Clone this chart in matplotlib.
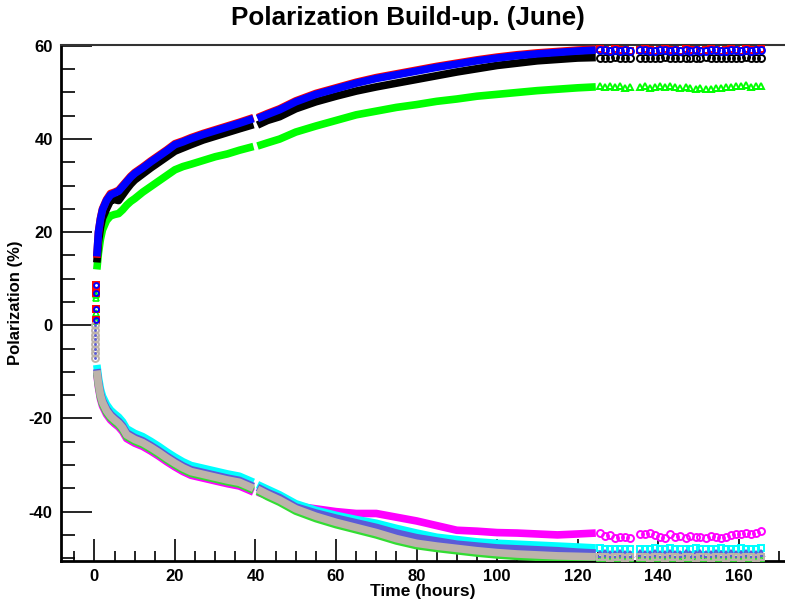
import matplotlib.pyplot as plt
import numpy as np

nan = np.nan

# times (hours)
t_start = [0.4, 0.4, 0.4, 0.4]
t_start_neg = [0.15, 0.15, 0.15, 0.15, 0.15, 0.15, 0.15, 0.15]
t_dense = [0.6, 1.0, 1.5, 2, 3, 4, 5, 6, 7, 8, 9, 10, 12, 14, 16, 18, 20, 22, 24, 27,
           30, 33, 36, 39.5, 40, 40.5, 43, 46, 50, 55, 60, 65, 70, 75, 80, 85, 90, 95, 100, 105,
           110, 115, 120, 124.5]
t_late = [125.5, 126.8, 128.0, 129.3, 130.5, 131.8, 133.0, 135.5, 136.8, 138.0, 139.3, 140.5,
          141.8, 143.0, 144.3, 145.5, 146.8, 148.0, 149.3, 150.5, 151.8, 153.0, 154.3, 155.5,
          156.8, 158.0, 159.3, 160.5, 161.8, 163.0, 164.3, 165.5]

# start-up points
up_start = [8.6, 6.9, 3.6, 1.1]
green_start = [6.5, 5.8, 2.6, 1.0]
neg_start = [0.0, -1.0, -2.0, -3.0, -4.0, -5.0, -6.0, -7.0]

# positive polarization
red_dense = [14.5, 20, 23, 25, 27, 28.3, 28.6, 29, 30, 31, 32, 32.8, 34, 35.3, 36.5, 37.7, 39, 39.6, 40.3, 41.2,
             42, 42.8, 43.6, 44.6, nan, 44.6, 45.5, 46.5, 48.2, 49.8, 51, 52.2, 53.2, 54, 54.8, 55.6, 56.3, 57, 57.6, 58.1,
             58.5, 58.8, 59.1, 59.3]
blue_dense = [14.8, 20, 22.8, 24.8, 26.8, 28, 28.4, 28.8, 29.8, 30.8, 31.8, 32.6, 33.8, 35.1, 36.3, 37.5, 38.8, 39.4, 40.1, 41.0,
              41.8, 42.6, 43.4, 44.4, nan, 44.4, 45.3, 46.3, 48.0, 49.6, 50.8, 52.0, 53.0, 53.8, 54.6, 55.4, 56.1, 56.8, 57.4, 57.9,
              58.3, 58.6, 58.9, 59.1]
black_dense = [13.5, 18, 21, 23, 25, 26.8, 27, 26.8, 28, 29.2, 30.3, 31.2, 32.5, 33.8, 35, 36.2, 37.4, 38.1, 38.8, 39.8,
               40.6, 41.4, 42.2, 43.1, nan, 43, 44, 44.8, 46.5, 48, 49.2, 50.3, 51.2, 52, 52.8, 53.6, 54.4, 55.1, 55.8, 56.3,
               56.8, 57.1, 57.4, 57.5]
green_dense = [12, 15.5, 18.5, 20.5, 22.5, 23.5, 23.8, 24, 24.8, 25.8, 26.6, 27.2, 28.6, 29.8, 31, 32.2, 33.4, 34.1, 34.6, 35.4,
               36.2, 36.8, 37.6, 38.4, nan, 38.5, 39.2, 40, 41.5, 42.8, 44, 45.2, 46, 46.8, 47.4, 48.1, 48.6, 49.2, 49.6, 50,
               50.4, 50.7, 51, 51.2]

red_late = [59.3, 59.2, 59.0, 59.3, 59.1, 59.2, 59.0, 59.2, 59.3, 59.1, 59.0, 59.2, 59.3, 59.1, 59.2, 59.0,
            59.3, 59.1, 59.2, 59.0, 59.1, 59.3, 59.2, 59.0, 59.1, 59.3, 59.2, 59.0, 59.3, 59.1, 59.2, 59.3]
blue_late = [59.2, 59.1, 59.0, 59.2, 59.0, 59.1, 58.9, 59.1, 59.2, 59.0, 58.9, 59.1, 59.2, 59.0, 59.1, 58.9,
             59.2, 59.0, 59.1, 58.9, 59.0, 59.2, 59.1, 58.9, 59.0, 59.2, 59.1, 58.9, 59.2, 59.0, 59.1, 59.2]
black_late = [57.5, 57.3, 57.4, 57.6, 57.3, 57.4, 57.5, 57.4, 57.3, 57.5, 57.4, 57.3, 57.6, 57.4, 57.5, 57.3,
              57.4, 57.5, 57.3, 57.4, 57.6, 57.4, 57.3, 57.5, 57.4, 57.3, 57.5, 57.4, 57.6, 57.3, 57.4, 57.5]
green_late = [51.3, 51.1, 51.4, 51.2, 51.3, 51.0, 51.2, 51.2, 51.3, 51.0, 51.2, 51.4, 51.1, 51.3, 51.2, 51.0,
              51.1, 50.9, 50.8, 50.9, 50.7, 50.8, 51.0, 50.9, 51.1, 51.2, 51.4, 51.3, 51.5, 51.2, 51.4, 51.3]

# negative polarization
gray_dense = [-9.7, -12.5, -15, -16.5, -18.3, -19.5, -20.3, -21, -22, -23.5, -24, -24.5, -25.2, -26.2, -27.3, -28.5, -29.6, -30.6, -31.4, -32,
              -32.6, -33.2, -33.7, -35, nan, -35.2, -36.3, -37.5, -39.4, -41, -42.3, -43.4, -44.5, -45.8, -46.8, -47.4, -47.9, -48.4, -48.8, -49.1,
              -49.3, -49.5, -49.6, -49.7]
gneg_dense = [-10.1, -12.9, -15.4, -16.9, -18.7, -19.9, -20.7, -21.4, -22.4, -23.9, -24.4, -24.9, -25.6, -26.6, -27.7, -28.9, -30.0, -31.0, -31.8, -32.4,
              -33.0, -33.6, -34.1, -35.4, nan, -35.6, -36.8, -38.0, -39.9, -41.5, -42.8, -43.9, -45.0, -46.3, -47.3, -47.9, -48.4, -48.9, -49.3, -49.6,
              -49.8, -50.0, -50.1, -50.2]
slate_dense = [-9.4, -12.1, -14.6, -16.1, -17.9, -19.1, -19.9, -20.6, -21.6, -23.1, -23.6, -24.1, -24.8, -25.8, -26.9, -28.1, -29.2, -30.2, -31.0, -31.6,
               -32.2, -32.8, -33.3, -34.6, nan, -34.8, -35.9, -37.0, -39.0, -40.3, -41.4, -42.4, -43.4, -44.6, -45.6, -46.3, -47.0, -47.4, -47.8, -48.0,
               -48.2, -48.4, -48.7, -48.9]
cyan_dense = [-8.5, -11.2, -13.7, -15.2, -17, -18.2, -19, -19.7, -20.7, -22.2, -22.7, -23.2, -23.9, -24.9, -26, -27.2, -28.3, -29.3, -30.1, -30.7,
              -31.3, -31.9, -32.4, -33.7, nan, -34.2, -35.2, -36.4, -38.3, -39.7, -40.8, -41.7, -42.5, -43.6, -44.6, -45.5, -46, -46.5, -46.8, -47,
              -47.2, -47.4, -47.6, -47.8]
magenta_dense = [-10.5, -13.3, -15.8, -17.3, -19.1, -20.3, -21.1, -21.8, -22.8, -24.3, -24.8, -25.3, -26, -27, -28.1, -29.3, -30.4, -31.4, -32.2, -32.8,
                 -33.4, -34, -34.5, -35.8, nan, -35.8, -36.6, -37.6, -38.8, -39.4, -40, -40.4, -40.4, -41.2, -42, -43, -44, -44.2, -44.5, -44.6,
                 -44.8, -45, -44.8, -44.6]

magenta_late = [-44.6, -45.3, -45.1, -45.6, -45.4, -45.5, -45.7, -44.8, -44.7, -44.6, -45.0, -45.4, -45.6, -44.9, -45.5, -45.2,
                -45.6, -45.3, -45.5, -45.4, -45.6, -45.3, -45.5, -45.7, -45.4, -45.0, -44.8, -44.9, -44.6, -44.8, -44.6, -44.2]
cyan_late = [-47.9, -48.0, -48.0, -48.1, -48.0, -48.0, -48.1, -48.0, -48.1, -48.0, -47.9, -48.0, -48.1, -47.9, -48.0, -48.0,
             -48.1, -48.0, -47.9, -48.0, -48.1, -48.0, -48.0, -47.9, -48.1, -48.0, -48.0, -47.9, -48.0, -48.1, -48.0, -47.9]
slate_late = [-49.1, -48.9, -49.0, -49.1, -48.9, -49.0, -49.1, -48.9, -49.0, -49.1, -48.9, -49.0, -49.1, -48.9, -49.0, -49.1,
              -48.9, -49.0, -49.1, -48.9, -49.0, -49.1, -48.9, -49.0, -49.1, -48.9, -49.0, -49.1, -48.9, -49.0, -49.1, -48.9]
gray_late = [-49.8, -49.7, -49.9, -49.8, -49.7, -49.9, -49.8, -49.8, -49.7, -49.9, -49.8, -49.7, -49.9, -49.8, -49.7, -49.9,
             -49.8, -49.7, -49.9, -49.8, -49.7, -49.9, -49.8, -49.7, -49.9, -49.8, -49.7, -49.9, -49.8, -49.7, -49.9, -49.8]
gneg_late = [-50.2, -50.1, -50.3, -50.2, -50.1, -50.3, -50.2, -50.2, -50.1, -50.3, -50.2, -50.1, -50.3, -50.2, -50.1, -50.3,
             -50.2, -50.1, -50.3, -50.2, -50.1, -50.3, -50.2, -50.1, -50.3, -50.2, -50.1, -50.3, -50.2, -50.1, -50.3, -50.2]

plt.rcParams['font.family'] = ['Liberation Sans', 'DejaVu Sans']
plt.rcParams['font.weight'] = 'bold'
plt.rcParams['axes.unicode_minus'] = False

fig = plt.figure(figsize=(7.85, 6.07), dpi=100)
ax = fig.add_axes([0.0777, 0.0758, 0.9223, 0.8501])

SLATE = '#5b5bd8'
TAN = '#bdb3aa'

# (dense values, late values, colour, marker, zorder)
series = [
    (green_dense, green_late, '#00ff00', '^', 2),
    (black_dense, black_late, 'black', 'o', 3),
    (red_dense, red_late, 'red', 's', 4),
    (blue_dense, blue_late, 'blue', 'o', 5),
    (magenta_dense, magenta_late, '#ff00ff', 'o', 2),
    (cyan_dense, cyan_late, '#00ffff', 's', 3),
    (gneg_dense, gneg_late, '#33dd33', '^', 4),
    (slate_dense, slate_late, SLATE, '^', 5),
    (gray_dense, gray_late, TAN, 's', 6),
]

for dense, late, col, mk, z in series:
    ax.plot(t_dense, dense, color=col, lw=5.5, solid_capstyle='butt', solid_joinstyle='round', zorder=z)
    ax.plot(t_late, late, linestyle='none', marker=mk, ms=5, mfc='none', mec=col, mew=1.4, zorder=z)

# start-up points near t = 0
ax.plot(t_start, up_start, 's', ms=5, mfc='none', mec='red', mew=1.4, zorder=6)
ax.plot(t_start, up_start, 'o', ms=3.5, mfc='none', mec='blue', mew=1.4, zorder=7)
ax.plot(t_start, green_start, '^', ms=5, mfc='none', mec='#00ff00', mew=1.2, zorder=5)
ax.plot(t_start_neg, neg_start, 'o', ms=5, mfc='none', mec=TAN, mew=1.4, zorder=6)
ax.plot(t_start_neg, neg_start, '.', ms=2, color=SLATE, zorder=7)

ax.set_xlim(-8.3, 171.5)
ax.set_ylim(-50.6, 60.2)

ax.set_xticks(np.arange(0, 161, 20))
ax.set_xticks(np.arange(-5, 171, 5), minor=True)
ax.set_yticks(np.arange(-40, 61, 20))
ax.set_yticks(np.arange(-50, 61, 5), minor=True)
ax.tick_params(axis='both', which='both', direction='in', labelsize=12, color='black')
ax.tick_params(axis='x', which='major', length=16, width=1.2, pad=6)
ax.tick_params(axis='x', which='minor', length=7, width=1.2)
ax.tick_params(axis='y', which='major', length=22, width=1.2, pad=6)
ax.tick_params(axis='y', which='minor', length=10, width=1.2)
for lab in ax.get_xticklabels() + ax.get_yticklabels():
    lab.set_fontweight('bold')

ax.spines['left'].set_linewidth(2)
ax.spines['bottom'].set_linewidth(2)
ax.spines['top'].set_linewidth(1.5)
ax.spines['top'].set_color('#333333')
ax.spines['right'].set_visible(False)

ax.set_xlabel('Time (hours)', fontsize=12.5, fontweight='bold', labelpad=0)
ax.set_ylabel('Polarization (%)', fontsize=12, fontweight='bold')
ax.yaxis.set_label_coords(-0.052, 0.5)
fig.text(0.52, 0.97, 'Polarization Build-up. (June)', ha='center', va='center',
         fontsize=18.7, fontweight='bold')

fig.savefig('out.png', dpi=100)
